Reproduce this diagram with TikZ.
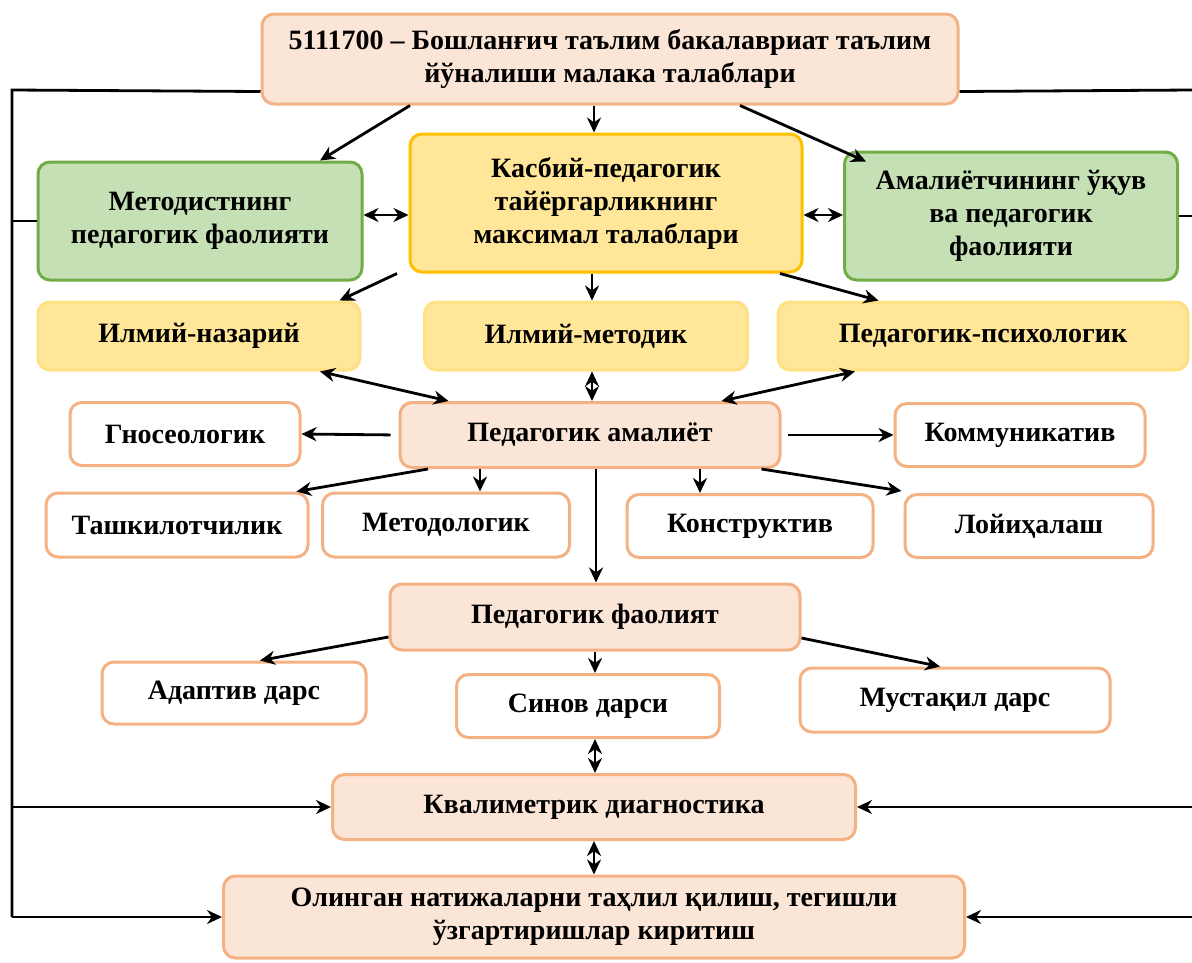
\documentclass[tikz,border=0pt]{standalone}
\usepackage{fontspec}
\setmainfont{Liberation Serif}
\usetikzlibrary{arrows.meta}
\definecolor{peachfill}{HTML}{FBE5D6}
\definecolor{peachline}{HTML}{F4B183}
\definecolor{yellowfill}{HTML}{FFE699}
\definecolor{yellowline}{HTML}{FFC000}
\definecolor{greenfill}{HTML}{C5E0B4}
\definecolor{greenline}{HTML}{70AD47}

\begin{document}
\begin{tikzpicture}[x=1pt, y=-1pt,
		box/.style = {rounded corners=12pt, line width=3pt, align=center, inner sep=0pt, font=\bfseries\fontsize{28}{33}\selectfont},
		main/.style = {box, draw=peachline, fill=peachfill},
		plain/.style = {box, draw=peachline, fill=white},
		req/.style = {box, draw=yellowline, fill=yellowfill},
		side/.style = {box, draw=yellowfill!85!yellowline, fill=yellowfill},
		act/.style = {box, draw=greenline, fill=greenfill},
		link/.style = {line width=2.8pt, -{Stealth[length=15pt,width=14pt]}},
		both/.style = {line width=2.8pt, {Stealth[length=15pt,width=14pt]}-{Stealth[length=15pt,width=14pt]}}]
			\useasboundingbox (0,0) rectangle (1192,962);
			\node[main, minimum width=696pt, minimum height=90pt] (top) at (610,59) {5111700 – Бошланғич таълим бакалавриат таълим\\йўналиши малака талаблари};
			\node[act, minimum width=324pt, minimum height=118pt] (met) at (200,221) {Методистнинг\\педагогик фаолияти};
			\node[req, minimum width=392pt, minimum height=138pt] (max) at (606,203) {Касбий-педагогик\\тайёргарликнинг\\максимал талаблари};
			\node[act, minimum width=333pt, minimum height=128pt] (ama) at (1011,216) {Амалиётчининг ўқув\\ва педагогик\\фаолияти};
			\node[side, minimum width=322pt, minimum height=68pt] (naz) at (199,336) {Илмий-назарий};
			\node[side, minimum width=323pt, minimum height=68pt] (mtd) at (586,336) {Илмий-методик};
			\node[side, minimum width=410pt, minimum height=68pt] (psi) at (983,336) {Педагогик-психологик};
			\node[main, minimum width=380pt, minimum height=65pt] (pam) at (590,435) {Педагогик амалиёт};
			\node[plain, minimum width=230pt, minimum height=63pt] (gno) at (185,434) {Гносеологик};
			\node[plain, minimum width=250pt, minimum height=63pt] (kom) at (1020,435) {Коммуникатив};
			\node[plain, minimum width=262pt, minimum height=64pt] (tash) at (177,525) {Ташкилотчилик};
			\node[plain, minimum width=247pt, minimum height=64pt] (mlog) at (446,525) {Методологик};
			\node[plain, minimum width=246pt, minimum height=63pt] (kons) at (750,526) {Конструктив};
			\node[plain, minimum width=248pt, minimum height=63pt] (loy) at (1029,526) {Лойиҳалаш};
			\node[main, minimum width=410pt, minimum height=66pt] (paol) at (595,617) {Педагогик фаолият};
			\node[plain, minimum width=264pt, minimum height=62pt] (adap) at (234,693) {Адаптив дарс};
			\node[plain, minimum width=263pt, minimum height=63pt] (sin) at (588,706) {Синов дарси};
			\node[plain, minimum width=310pt, minimum height=64pt] (mus) at (955,700) {Мустақил дарс};
			\node[main, minimum width=523pt, minimum height=65pt] (kval) at (594,807) {Квалиметрик диагностика};
			\node[main, minimum width=741pt, minimum height=82pt] (res) at (594,917) {Олинган натижаларни таҳлил қилиш, тегишли\\ўзгартиришлар киритиш};
			\coordinate (lt) at (12,90);
			\coordinate (lb) at (12,917);
			\coordinate (rt) at (1192,90);
			\draw[link] ([xshift=-200pt]top.south) -- ([xshift=120pt]met.north);
			\draw[link] ([xshift=-16pt]top.south) -- ([xshift=-12pt]max.north);
			\draw[link] ([xshift=130pt]top.south) -- ([xshift=23pt,yshift=-11pt]ama.north west);
			\draw[both] ([yshift=6pt]met.east) -- ([yshift=-12pt]max.west);
			\draw[both] ([yshift=-12pt]max.east) -- ([yshift=1pt]ama.west);
			\draw[link] ([xshift=-209pt]max.south) -- ([xshift=-22pt]naz.north east);
			\draw[link] ([xshift=-14pt]max.south) -- ([xshift=6pt]mtd.north);
			\draw[link] ([xshift=174pt]max.south) -- ([xshift=102pt]psi.north west);
			\draw[both] ([xshift=121pt]naz.south) -- ([xshift=50pt]pam.north west);
			\draw[both] ([xshift=6pt]mtd.south) -- ([xshift=2pt]pam.north);
			\draw[both] ([xshift=-128pt]psi.south) -- ([xshift=-60pt]pam.north east);
			\draw[link, shorten <=8pt] (pam.west) -- (gno.east);
			\draw[link, shorten <=6pt] (pam.east) -- (kom.west);
			\draw[link] ([xshift=-162pt]pam.south) -- ([xshift=-13pt]tash.north east);
			\draw[link] ([xshift=-110pt]pam.south) -- ([xshift=34pt]mlog.north);
			\draw[link] ([xshift=110pt]pam.south) -- ([xshift=-50pt]kons.north);
			\draw[link] ([xshift=-20pt]pam.south east) -- ([xshift=-2pt,yshift=2pt]loy.north west);
			\draw[link] ([xshift=6pt]pam.south) -- ([xshift=1pt]paol.north);
			\draw[link] ([yshift=-20pt]paol.west) -- ([xshift=26pt]adap.north);
			\draw[link] (paol.south) -- ([xshift=7pt]sin.north);
			\draw[link] ([yshift=-21pt]paol.east) -- ([xshift=-15pt]mus.north);
			\draw[both] ([xshift=7pt]sin.south) -- ([xshift=1pt]kval.north);
			\draw[both] (kval.south) -- (res.north);
			\draw[line width=2.8pt] ([yshift=14pt]top.south west) -- (lt) -- (lb);
			\draw[line width=2.8pt] (lt |- met.west) -- (met.west);
			\draw[link] (lt |- kval.west) -- (kval.west);
			\draw[link] (lb) -- (res.west);
			\draw[line width=2.8pt] ([yshift=14pt]top.south east) -- (rt);
			\draw[line width=2.8pt] (ama.east) -- (rt |- ama.east);
			\draw[link] (rt |- kval.east) -- (kval.east);
			\draw[link] (rt |- res.east) -- (res.east);
		\end{tikzpicture}
\end{document}
